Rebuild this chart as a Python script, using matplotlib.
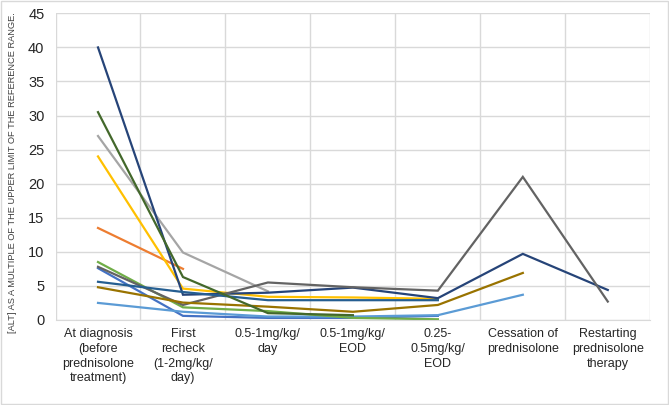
import numpy as np
import matplotlib
matplotlib.use('Agg')
import matplotlib.pyplot as plt

plt.rcParams['font.family'] = ['Liberation Sans', 'DejaVu Sans']

nan = np.nan
categories = ['At diagnosis\n(before\nprednisolone\ntreatment)',
              'First\nrecheck\n(1-2mg/kg/\nday)',
              '0.5-1mg/kg/\nday',
              '0.5-1mg/kg/\nEOD',
              '0.25-\n0.5mg/kg/\nEOD',
              'Cessation of\nprednisolone',
              'Restarting\nprednisolone\ntherapy']

# one list per dog, drawn in the Excel series order
blue = [7.6, 0.6, 0.3, 0.3, 0.6, nan, nan]
orange = [13.5, 7.5, nan, nan, nan, nan, nan]
light_gray = [27.0, 9.9, 4.2, nan, nan, nan, nan]
gold = [24.0, 4.6, 3.4, 3.3, 3.1, nan, nan]
light_blue = [2.5, 1.2, 0.5, 0.5, 0.7, 3.7, nan]
green = [8.5, 1.85, 1.3, 0.3, 0.1, nan, nan]
navy = [40.0, 3.7, 4.0, 4.75, 3.2, 9.7, 4.4]
dark_gray = [7.8, 2.2, 5.5, 4.8, 4.3, 21.0, 2.7]
dark_gold = [4.8, 2.55, 1.95, 1.2, 2.2, 6.9, nan]
steel_blue = [5.6, 4.1, 2.9, 2.9, 2.9, nan, nan]
dark_green = [30.5, 6.3, 1.0, 0.7, nan, nan, nan]

series = [(blue, '#4472C4'), (orange, '#ED7D31'), (light_gray, '#A5A5A5'),
          (gold, '#FFC000'), (light_blue, '#5B9BD5'), (green, '#70AD47'),
          (navy, '#264478'), (dark_gray, '#636363'), (dark_gold, '#997300'),
          (steel_blue, '#255E91'), (dark_green, '#43682B')]

fig = plt.figure(figsize=(6.69, 4.05), dpi=100)
ax = fig.add_axes([0.083, 0.21, 0.889, 0.757])

x = np.arange(len(categories))
for vals, col in series:
    ax.plot(x, vals, color=col, lw=1.6, solid_joinstyle='miter')

ax.set_xlim(-0.5, len(categories) - 0.5)
ax.set_ylim(0, 45)
ax.set_yticks(np.arange(0, 46, 5))
ax.set_xticks(x)
ax.set_xticklabels(categories, fontsize=9, color='#262626', linespacing=1.3)
ax.set_xticks(np.arange(-0.5, len(categories)), minor=True)
ax.tick_params(axis='y', labelsize=10.5, colors='#262626', length=0, pad=8)
ax.tick_params(axis='x', which='both', length=0, pad=6)
ax.grid(True, axis='y', color='#D9D9D9', lw=1)
ax.grid(True, axis='x', which='minor', color='#D9D9D9', lw=1)
ax.grid(False, axis='x', which='major')
ax.set_axisbelow(True)
for s in ax.spines.values():
    s.set_visible(False)
ax.spines['bottom'].set_visible(True)
ax.spines['bottom'].set_color('#D9D9D9')

ax.set_ylabel('[ALT] AS A MULTIPLE OF THE UPPER LIMIT OF THE REFERENCE RANGE.',
              fontsize=6.7, color='#404040')
ax.yaxis.set_label_coords(-0.064, 0.48)

fig.patches.append(plt.Rectangle((0.001, 0.002), 0.997, 0.996, transform=fig.transFigure,
                                 fill=False, edgecolor='#D9D9D9', lw=1))

fig.savefig('out.png', dpi=100)
